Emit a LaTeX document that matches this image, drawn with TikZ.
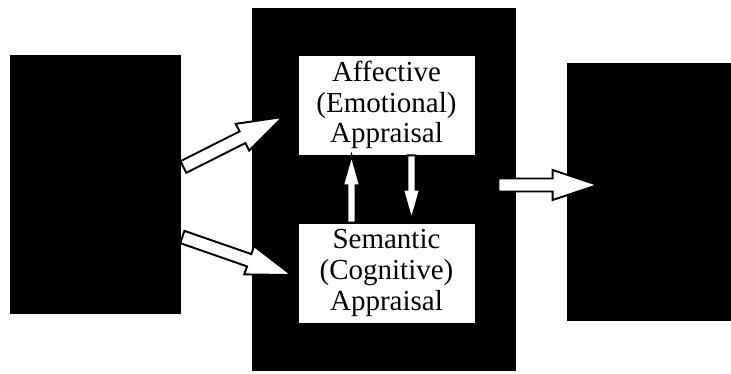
\documentclass[tikz,border=0pt]{standalone}
\usepackage{fontspec}
\setmainfont{Liberation Serif}
\usetikzlibrary{calc}
\tikzset{
  panel/.style={draw=black,fill=black,inner sep=0pt},
  appraisal/.style={draw=black,fill=white,align=center,inner sep=0pt,
    minimum width=3.54cm,minimum height=2cm,font=\fontsize{16.5}{17.5}\selectfont},
  blockarrow/.style n args={3}{draw=black,fill=white,line width=1.1pt,
    to path={($(\tikztostart)!#1!90:(\tikztotarget)$)
      -- ($($(\tikztotarget)!#3!(\tikztostart)$)!#1!-90:(\tikztostart)$)
      -- ($($(\tikztotarget)!#3!(\tikztostart)$)!#2!-90:(\tikztostart)$)
      -- (\tikztotarget)
      -- ($($(\tikztotarget)!#3!(\tikztostart)$)!#2!90:(\tikztostart)$)
      -- ($($(\tikztotarget)!#3!(\tikztostart)$)!#1!90:(\tikztostart)$)
      -- ($(\tikztostart)!#1!-90:(\tikztotarget)$)
      -- cycle}},
  sidearrow/.style={blockarrow={.13cm}{.3cm}{.9cm}},
  linkarrow/.style={blockarrow={.08cm}{.17cm}{.6cm}}
}
\begin{document}
\begin{tikzpicture}[x=.02cm,y=-.02cm]
      \useasboundingbox (0,0) rectangle (731,373);

      \node[panel,minimum width=3.4cm,minimum height=5.16cm] (lft) at (95,184) {};
      \node[panel,minimum width=5.26cm,minimum height=7.24cm] (ctr) at (383.5,189) {};
      \node[panel,minimum width=3.28cm,minimum height=5.14cm] (rgt) at (649,191.5) {};

      \node[appraisal] (aff) at (386.5,105) {Affective\\(Emotional)\\Appraisal};
      \node[appraisal] (sem) at (386.5,273) {Semantic\\(Cognitive)\\Appraisal};

      \coordinate (upS) at ([shift={(3,-17)}]lft.east);
      \coordinate (upT) at ([shift={(-15,12)}]aff.west);
      \coordinate (dnS) at ([shift={(2,53)}]lft.east);
      \coordinate (dnT) at ([shift={(-6,2)}]sem.west);
      \coordinate (riseS) at ([shift={(-35,0)}]sem.north);
      \coordinate (riseT) at ([shift={(-35,0)}]aff.south);
      \coordinate (fallS) at ([shift={(25,0)}]aff.south);
      \coordinate (fallT) at ([shift={(25,-3)}]sem.north);
      \coordinate (outS) at ([shift={(-17,-4)}]ctr.east);
      \coordinate (outT) at ([shift={(31,-6.5)}]rgt.west);

      \draw[sidearrow] (upS) to (upT);
      \draw[sidearrow] (dnS) to (dnT);
      \draw[linkarrow] (riseS) to (riseT);
      \draw[linkarrow] (fallS) to (fallT);
      \draw[sidearrow] (outS) to (outT);
    \end{tikzpicture}
\end{document}
